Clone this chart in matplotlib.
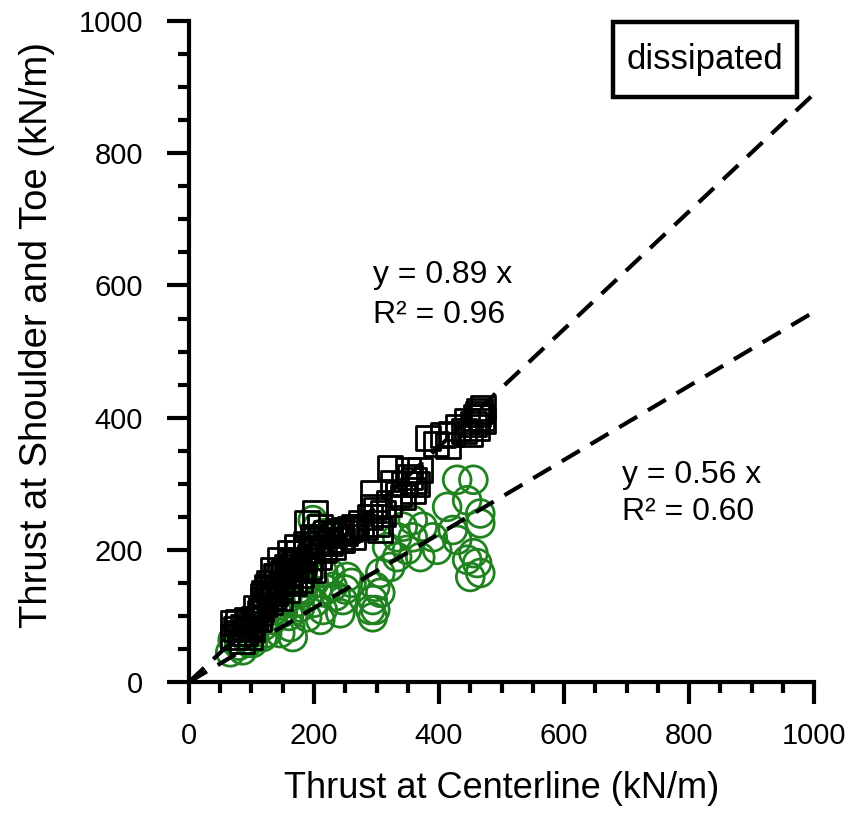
import matplotlib
matplotlib.use("Agg")
import matplotlib.pyplot as plt
from matplotlib.patches import Rectangle

plt.rcParams['font.family'] = ['Liberation Sans', 'DejaVu Sans']

# thrust at centerline (x) vs thrust at shoulder and toe (y), kN/m
sq_x = [470, 465, 460, 470, 455, 460, 440, 450, 382, 406, 414,
        322, 354, 358, 342, 327, 370, 295, 295, 300, 282, 306,
        252, 262, 242, 230, 202, 189, 210, 198,
        134, 146, 162, 173, 125, 119, 146, 162, 182, 194, 134, 114, 178, 198, 157,
        140, 150, 120, 128, 168, 188, 108, 112,
        70, 82, 93, 70, 86, 98,
        115, 118, 122, 126, 130, 133, 137, 141, 145, 149, 152, 156, 160, 164,
        167, 171, 175, 179, 183, 187, 191, 195, 203, 207, 211, 215, 220, 225,
        232, 238, 245, 250, 258, 265, 275, 290, 300, 310, 320, 335, 345, 350,
        360, 365, 395, 420, 430, 445, 462, 468,
        75, 78, 90, 95, 100, 85, 105]
sq_y = [415, 410, 400, 395, 390, 385, 380, 375, 369, 374, 358,
        324, 310, 290, 280, 301, 321, 286, 265, 240, 235, 230,
        230, 219, 215, 204, 255, 240, 235, 219,
        169, 185, 195, 204, 144, 124, 144, 154, 174, 189, 129, 104, 154, 169, 174,
        160, 165, 135, 150, 185, 200, 112, 95,
        89, 74, 94, 68, 83, 68,
        110, 130, 118, 140, 122, 150, 135, 160, 128, 150, 170, 140, 165, 182,
        150, 178, 195, 162, 185, 208, 175, 200, 215, 190, 210, 200, 225, 210,
        222, 228, 215, 225, 232, 235, 240, 250, 260, 255, 270, 285, 300, 320,
        305, 300, 360, 375, 385, 395, 405, 400,
        80, 90, 75, 88, 80, 62, 95]

ci_x = [429, 455, 413, 445, 466, 466, 422, 455, 461, 450, 466, 445, 429,
        358, 342, 374, 333, 358, 390, 349, 370, 397, 333, 322, 306, 317,
        298, 294, 298, 294, 306, 290,
        253, 230, 246, 214, 242, 210, 189, 226, 198, 205, 215,
        162, 146, 125, 166, 134, 178, 157, 182,
        66, 86, 70, 102, 118,
        190, 200, 215, 170, 150, 120, 105, 95,
        110, 130, 140, 160, 175, 185, 200, 220, 235, 250, 260, 80, 90]
ci_y = [306, 306, 265, 275, 255, 240, 230, 195, 180, 159, 165, 185, 215,
        245, 235, 235, 219, 219, 219, 200, 189, 200, 189, 174, 165, 204,
        144, 124, 109, 98, 135, 109,
        159, 144, 124, 109, 104, 94, 98, 165, 245, 235, 225,
        83, 74, 74, 68, 94, 113, 124, 135,
        45, 48, 64, 59, 68,
        130, 150, 165, 120, 105, 85, 75, 60,
        90, 100, 110, 100, 140, 150, 120, 140, 130, 140, 150, 55, 70]

fit_x = [0, 1000]
slope_sq = 0.89
slope_ci = 0.56

fig = plt.figure(figsize=(8.59, 8.17), dpi=100)
ax = fig.add_axes([0.220, 0.1652, 0.7277, 0.809])

green = '#1f821f'
ax.scatter(ci_x, ci_y, s=20**2, marker='o', facecolors='none',
           edgecolors=green, linewidths=2.0, zorder=2)
ax.scatter(sq_x, sq_y, s=17.5**2, marker='s', facecolors='none',
           edgecolors='black', linewidths=2.0, zorder=3)

for k in [slope_sq, slope_ci]:
    ax.plot(fit_x, [k * v for v in fit_x], color='black', lw=3,
            dashes=(5, 3), zorder=4, clip_on=False)

ax.set_xlim(0, 1000)
ax.set_ylim(0, 1000)
ax.set_xticks(range(0, 1001, 200))
ax.set_yticks(range(0, 1001, 200))
ax.set_xticks(range(0, 1001, 50), minor=True)
ax.set_yticks(range(0, 1001, 50), minor=True)
ax.tick_params(which='major', direction='out', length=16, width=3,
               labelsize=21, pad=13)
ax.tick_params(axis='y', which='major', pad=17)
ax.tick_params(which='minor', direction='out', length=8, width=3)
for s in ['top', 'right']:
    ax.spines[s].set_visible(False)
for s in ['left', 'bottom']:
    ax.spines[s].set_linewidth(3)

ax.set_xlabel('Thrust at Centerline (kN/m)', fontsize=26)
ax.set_ylabel('Thrust at Shoulder and Toe (kN/m)', fontsize=27.5)
ax.xaxis.set_label_coords(0.5, -0.135)
ax.yaxis.set_label_coords(-0.215, 0.525)

# regression labels
ax.text(294, 604, 'y = 0.89 x', fontsize=23, va='baseline')
ax.text(294, 543, 'R\u00b2 = 0.96', fontsize=23, va='baseline')
ax.text(693, 301, 'y = 0.56 x', fontsize=23, va='baseline')
ax.text(693, 245, 'R\u00b2 = 0.60', fontsize=23, va='baseline')

ax.add_patch(Rectangle((0.678, 0.885), 0.295, 0.113, transform=ax.transAxes,
                       fill=True, facecolor='white', edgecolor='black',
                       lw=3.2, zorder=5, clip_on=False))
ax.text(0.8255, 0.9415, 'dissipated', transform=ax.transAxes, fontsize=25,
        ha='center', va='center', zorder=6)

fig.savefig('out.png', dpi=100)
